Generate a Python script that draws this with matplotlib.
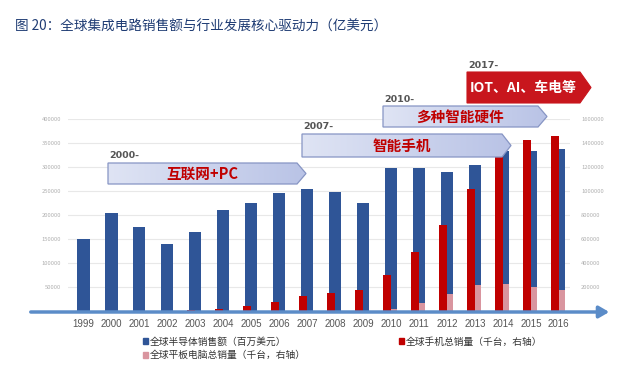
import numpy as np
import matplotlib
matplotlib.use("Agg")
import matplotlib.pyplot as plt
from matplotlib.patches import Polygon, FancyArrowPatch, Patch

plt.rcParams['font.family'] = ['Noto Sans CJK SC', 'DejaVu Sans']

# data
years = [str(y) for y in range(1999, 2017)]
semi_sales = [149000, 204000, 175000, 140000, 165000, 211000, 226000, 246000, 254000,
              248000, 226000, 297000, 298000, 290000, 304000, 334000, 333000, 338000]
phone_sales = [0, 0, 0, 0, 6000, 15000, 45000, 75000, 124000,
               150000, 175000, 300000, 490000, 717000, 1017000, 1290000, 1425000, 1458000]
tablet_sales = [0, 0, 0, 0, 3000, 3000, 0, 0, 0,
                0, 0, 17000, 67000, 142000, 217000, 225000, 200000, 175000]

left_ticks = [50000, 100000, 150000, 200000, 250000, 300000, 350000, 400000]
right_ticks = [200000, 400000, 600000, 800000, 1000000, 1200000, 1400000, 1600000]

stages = [("2000-", "互联网+PC"), ("2007-", "智能手机"),
          ("2010-", "多种智能硬件"), ("2017-", "IOT、AI、车电等")]

BLUE = "#2f5597"
RED = "#c00000"
PINK = "#d9959f"

W, H = 639, 379


def px(x, y):
    return (x / W, 1 - y / H)


fig = plt.figure(figsize=(6.39, 3.79), dpi=100)
ax = fig.add_axes([68 / W, 1 - 311 / H, (570 - 68) / W, (311 - 119) / H])
ax2 = ax.twinx()

x = np.arange(len(years))
ax.bar(x, semi_sales, width=0.44, color=BLUE, zorder=2)
ax2.bar(x - 0.15, phone_sales, width=0.28, color=RED, zorder=3)
ax2.bar(x + 0.11, tablet_sales, width=0.21, color=PINK, zorder=3)

ax.set_xlim(-0.55, len(years) - 0.6)
ax.set_ylim(0, 400000)
ax2.set_ylim(0, 1600000)

ax.set_yticks(left_ticks)
ax.set_yticklabels([str(v) for v in left_ticks])
ax2.set_yticks(right_ticks)
ax2.set_yticklabels([str(v) for v in right_ticks])
ax.yaxis.grid(True, color="#e8e8e8", linewidth=0.8, zorder=0)
ax.set_axisbelow(True)
for a in (ax, ax2):
    for s in a.spines.values():
        s.set_visible(False)
    a.tick_params(axis="y", length=0, labelsize=4.2, labelcolor="#b0b0b0")
ax.tick_params(axis="y", pad=5)
ax2.tick_params(axis="y", pad=8)

ax.set_xticks(x)
ax.set_xticklabels(years, family="Liberation Sans", fontsize=7, color="#555555")
ax.tick_params(axis="x", length=0, pad=6)

# x axis arrow
fig.add_artist(FancyArrowPatch(px(28, 312), px(612, 312), arrowstyle="-|>,head_length=6,head_width=3.5",
                               color="#5b8cc8", linewidth=2.5, mutation_scale=1,
                               transform=fig.transFigure))

# title
fig.text(15 / W, 1 - 27 / H, "图 20：全球集成电路销售额与行业发展核心驱动力（亿美元）",
         fontsize=9.8, color="#1f3c74", va="center", ha="left")

# stage arrows
boxes = [(108, 297, 306, 163, 184), (302, 502, 511, 134, 157),
         (383, 538, 547, 106, 127), (467, 580, 591, 72, 103)]
for i, ((lab, txt), (l, r, tip, t, b)) in enumerate(zip(stages, boxes)):
    pts = [px(l, t), px(r, t), px(tip, (t + b) / 2), px(r, b), px(l, b)]
    last = i == len(stages) - 1
    if last:
        poly = Polygon(pts, closed=True, transform=fig.transFigure,
                       facecolor="#c8161d", edgecolor="#c8161d", linewidth=0.8, zorder=5)
        fig.add_artist(poly)
    else:
        poly = Polygon(pts, closed=True, transform=fig.transFigure,
                       facecolor="none", edgecolor="#8795c4", linewidth=0.9, zorder=6)
        fig.add_artist(poly)
        grad = np.linspace(0, 1, 256).reshape(1, -1)
        gax = fig.add_axes([l / W, 1 - b / H, (tip - l) / W, (b - t) / H], zorder=5)
        gax.axis("off")
        cmap = matplotlib.colors.LinearSegmentedColormap.from_list("g", ["#dfe4f4", "#b9c3e6"])
        im = gax.imshow(grad, aspect="auto", cmap=cmap, extent=(0, 1, 0, 1))
        clip = Polygon(pts, closed=True, transform=fig.transFigure)
        im.set_clip_path(clip)
    cx = (l + r) / 2
    fig.text(*px(cx, (t + b) / 2 + 0.5), txt, fontsize=10.5 if not last else 10,
             fontweight="bold", color="white" if last else RED,
             ha="center", va="center", zorder=7)
    fig.text(*px(l + 1, t - 7), lab, fontsize=6.8, fontweight="bold", color="#555555",
             family="DejaVu Sans", ha="left", va="center", zorder=7)

# legend
handles = [Patch(color=BLUE, label="全球半导体销售额（百万美元）"),
           Patch(color=PINK, label="全球平板电脑总销量（千台，右轴）"),
           Patch(color=RED, label="全球手机总销量（千台，右轴）")]
fig.legend(handles=handles, loc="upper left", bbox_to_anchor=(138 / W, 1 - 332 / H),
           ncol=2, frameon=False, fontsize=7, handlelength=0.55, handleheight=0.55,
           handletextpad=0.2, columnspacing=9.5, labelspacing=0.35, borderpad=0,
           labelcolor="#333333")

fig.savefig("out.png", dpi=100)
